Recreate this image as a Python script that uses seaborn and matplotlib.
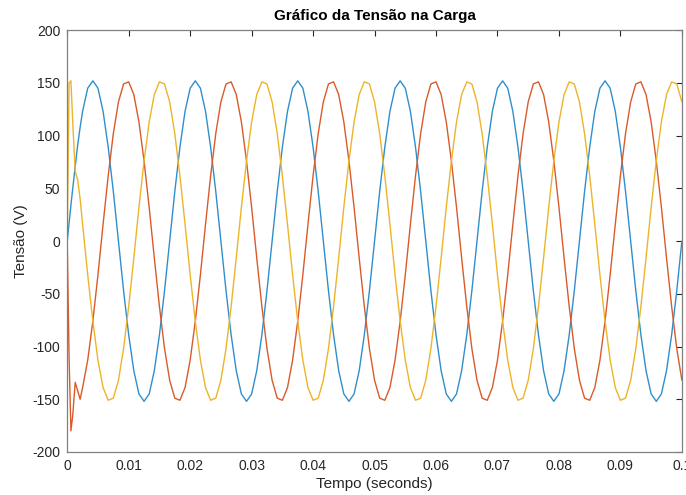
import matplotlib
matplotlib.use("Agg")
import matplotlib.pyplot as plt
import seaborn as sns
import pandas as pd

# Sample times (s): first samples follow the switching transient, then a 1/1200 s grid
tempo_ini = [0.0, 0.0003, 0.0006, 0.0009, 0.0013, 0.0017, 0.0021]
tempo = tempo_ini + [k / 1200 for k in range(3, 121)]

# Voltage of each phase (V)
fase_a = [0, 17, 34, 50, 71, 91, 108,
          123, 145, 152, 145, 123, 89, 47, 0, -47, -89, -123, -145, -152, -145, -123, -89, -47,
          0, 47, 89, 123, 145, 152, 145, 123, 89, 47, 0, -47, -89, -123, -145, -152, -145, -123, -89, -47,
          0, 47, 89, 123, 145, 152, 145, 123, 89, 47, 0, -47, -89, -123, -145, -152, -145, -123, -89, -47,
          0, 47, 89, 123, 145, 152, 145, 123, 89, 47, 0, -47, -89, -123, -145, -152, -145, -123, -89, -47,
          0, 47, 89, 123, 145, 152, 145, 123, 89, 47, 0, -47, -89, -123, -145, -152, -145, -123, -89, -47,
          0, 47, 89, 123, 145, 152, 145, 123, 89, 47, 0, -47, -89, -123, -145, -152, -145, -123, -89, -47,
          0]
fase_b = [0, -110, -180, -165, -134, -142, -150,
          -139, -113, -76, -32, 16, 62, 102, 132, 149, 151, 139, 113, 76, 32, -16, -62, -102,
          -132, -149, -151, -139, -113, -76, -32, 16, 62, 102, 132, 149, 151, 139, 113, 76, 32, -16, -62, -102,
          -132, -149, -151, -139, -113, -76, -32, 16, 62, 102, 132, 149, 151, 139, 113, 76, 32, -16, -62, -102,
          -132, -149, -151, -139, -113, -76, -32, 16, 62, 102, 132, 149, 151, 139, 113, 76, 32, -16, -62, -102,
          -132, -149, -151, -139, -113, -76, -32, 16, 62, 102, 132, 149, 151, 139, 113, 76, 32, -16, -62, -102,
          -132, -149, -151, -139, -113, -76, -32, 16, 62, 102, 132, 149, 151, 139, 113, 76, 32, -16, -62, -102,
          -132]
fase_c = [0, 150, 152, 112, 66, 58, 40,
          16, -32, -76, -113, -139, -151, -149, -132, -102, -62, -16, 32, 76, 113, 139, 151, 149,
          132, 102, 62, 16, -32, -76, -113, -139, -151, -149, -132, -102, -62, -16, 32, 76, 113, 139, 151, 149,
          132, 102, 62, 16, -32, -76, -113, -139, -151, -149, -132, -102, -62, -16, 32, 76, 113, 139, 151, 149,
          132, 102, 62, 16, -32, -76, -113, -139, -151, -149, -132, -102, -62, -16, 32, 76, 113, 139, 151, 149,
          132, 102, 62, 16, -32, -76, -113, -139, -151, -149, -132, -102, -62, -16, 32, 76, 113, 139, 151, 149,
          132, 102, 62, 16, -32, -76, -113, -139, -151, -149, -132, -102, -62, -16, 32, 76, 113, 139, 151, 149,
          132]

x_ticks = [0, 0.01, 0.02, 0.03, 0.04, 0.05, 0.06, 0.07, 0.08, 0.09, 0.1]
x_labels = ["0", "0.01", "0.02", "0.03", "0.04", "0.05", "0.06", "0.07", "0.08", "0.09", "0.1"]
y_ticks = [-200, -150, -100, -50, 0, 50, 100, 150, 200]

df = pd.concat([
    pd.DataFrame({"tempo": tempo, "tensao": fase_a, "fase": "A"}),
    pd.DataFrame({"tempo": tempo, "tensao": fase_b, "fase": "B"}),
    pd.DataFrame({"tempo": tempo, "tensao": fase_c, "fase": "C"}),
])

sns.set_style("white")
plt.rcParams["font.family"] = ["Liberation Sans", "DejaVu Sans"]
plt.rcParams["axes.unicode_minus"] = False

fig = plt.figure(figsize=(6.86, 4.95), dpi=100)
ax = fig.add_axes([0.098, 0.087, 0.896, 0.852])

sns.lineplot(data=df, x="tempo", y="tensao", hue="fase",
             palette={"A": "#2F8FCC", "B": "#D95A2B", "C": "#EDB42A"},
             linewidth=1.0, legend=False, sort=False, ax=ax)

ax.set_xlim(0, 0.1)
ax.set_ylim(-200, 200)
ax.set_xticks(x_ticks)
ax.set_xticklabels(x_labels)
ax.set_yticks(y_ticks)
ax.tick_params(direction="in", length=4, width=0.8, top=True, right=True,
               labelsize=10, colors="#262626", pad=5)
for s in ax.spines.values():
    s.set_color("#808080")
    s.set_linewidth(0.9)

ax.set_title("Gráfico da Tensão na Carga", fontsize=11, fontweight="bold", color="#000000", pad=7)
ax.set_xlabel("Tempo (seconds)", fontsize=11, color="#262626", labelpad=3)
ax.set_ylabel("Tensão (V)", fontsize=11, color="#262626", labelpad=3)

fig.savefig("out.png", dpi=100)
